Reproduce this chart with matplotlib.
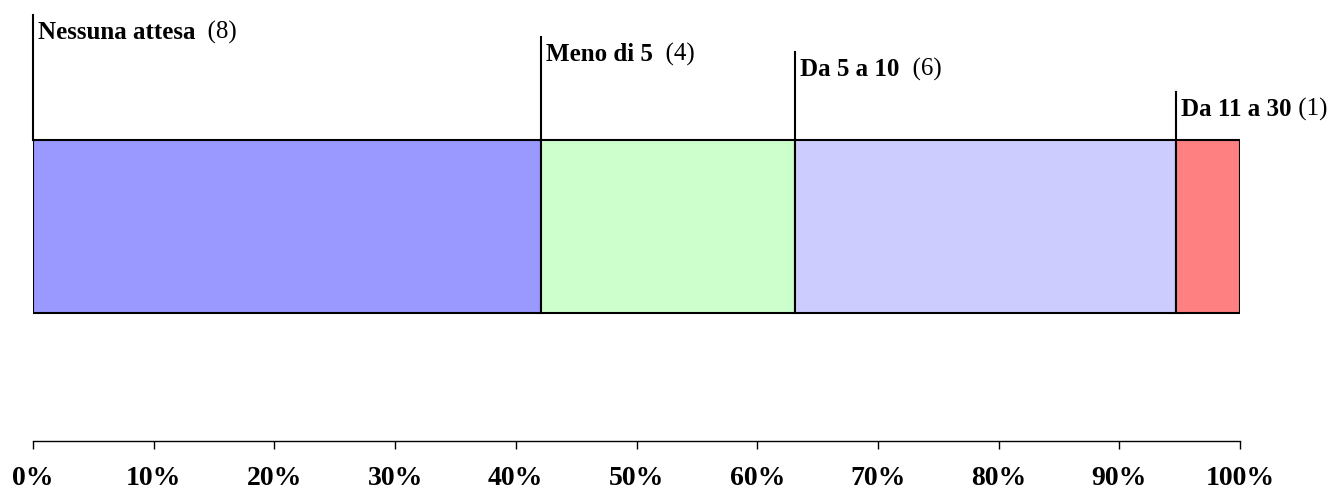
import matplotlib
matplotlib.use("Agg")
import matplotlib.pyplot as plt
import numpy as np

categories = ["Nessuna attesa", "Meno di 5", "Da 5 a 10", "Da 11 a 30"]
counts = [8, 4, 6, 1]
colors = ["#9999FF", "#CCFFCC", "#CCCCFF", "#FF8080"]
ticks = [0, 10, 20, 30, 40, 50, 60, 70, 80, 90, 100]
tick_labels = [f"{t}%" for t in ticks]

# leader line tops (axes fraction) and gap before the count, one per category
line_tops = [0.966, 0.916, 0.882, 0.791]
spacers = ["  ", "  ", "  ", " "]

plt.rcParams["font.family"] = ["Liberation Serif", "DejaVu Serif"]

fig = plt.figure(figsize=(13.38, 4.9), dpi=100)
ax = fig.add_axes([33 / 1338, 49 / 490, (1240 - 33) / 1338, 441 / 490])

total = sum(counts)
pct = np.array(counts) / total * 100
lefts = np.concatenate([[0], np.cumsum(pct)[:-1]])

bar_y, bar_h = 0.4864, 0.392
ax.barh(bar_y, pct, left=lefts, height=bar_h, color=colors,
        edgecolor="black", linewidth=1.5)

ax.set_xlim(0, 100)
ax.set_ylim(0, 1)
ax.set_xticks(ticks)
ax.set_xticklabels(tick_labels, fontsize=20, fontweight="bold")
ax.tick_params(axis="x", direction="out", length=6, width=1, pad=12)
ax.set_yticks([])
for s in ["left", "top", "right"]:
    ax.spines[s].set_visible(False)
ax.spines["bottom"].set_linewidth(1)

fig.canvas.draw()
renderer = fig.canvas.get_renderer()
for cat, n, x0, top, sp in zip(categories, counts, lefts, line_tops, spacers):
    ax.plot([x0, x0], [bar_y + bar_h / 2, top], color="black", lw=1.5,
            clip_on=False)
    t = ax.annotate(cat, xy=(x0, top), xytext=(3.5, -4), textcoords="offset points",
                    fontsize=18, fontweight="bold", va="top", ha="left",
                    annotation_clip=False)
    bb = t.get_window_extent(renderer)
    ax.annotate(f"{sp}({n})", xy=(x0, top), xytext=(3.5 + bb.width * 72 / fig.dpi, -4),
                textcoords="offset points", fontsize=18, va="top", ha="left",
                annotation_clip=False)

fig.savefig("out.png", dpi=100)
